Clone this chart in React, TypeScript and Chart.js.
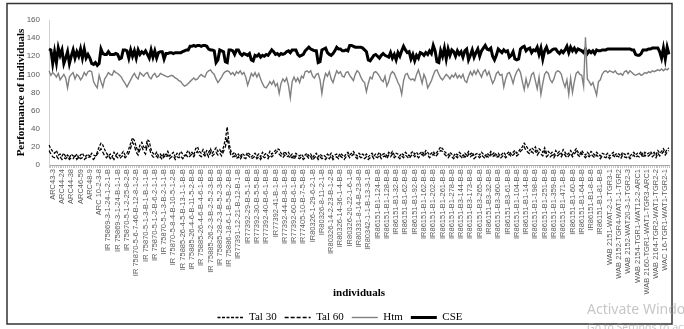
import React, { useEffect, useRef } from 'react';
import { Chart, registerables } from 'chart.js';

Chart.register(...registerables);

// Named individuals shown as tick labels (every 5th individual is labelled)
const individuals = [
  'ARC43-3', 'ARC44-24', 'ARC44-38', 'ARC46-59', 'ARC48-9', 'ARC 10-2-3-8',
  'IR 75869-3-1-24-1-2-1-B', 'IR 75869-3-1-24-B-1-1-B', 'IR 75870-5-1-2-25-8-2-B',
  'IR 75870-5-6-7-46-B-12-8-1-2-B', 'IR 75870-5-1-3-B-1-B-1-1-B', 'IR 75870-5-1-2-B-6-2-1-1-B',
  'IR 75870-5-1-3-B-2-1-1-B', 'IR 75870-5-8-4-B-10-5-1-2-B', 'IR 75885-26-4-5-B-13-1-1-B-B',
  'IR 75885-26-4-6-B-11-5-2-B-B', 'IR 75885-26-4-6-B-4-6-1-B-B', 'IR 75885-26-2-3-B-2-5-2-3-B-B',
  'IR 75885-28-2-3-B-5-2-3-B-B', 'IR 75886-18-6-1-B-5-B-2-B-B', 'IR77391-12-21-B-12-B-1-B',
  'IR77392-29-B-5-1-B-B', 'IR77392-30-B-5-5-B-B', 'IR77392-40-B-6-1-B-B', 'IR77392-41-B-1-B-B',
  'IR77392-44-B-8-1-B-B', 'IR77392-60-B-6-1-B-B', 'IR77405-10-B-7-5-B-B', 'IR80326-1-29-6-2-1-B',
  'IR80326-8-11-2-1-B', 'IR80326-14-2-23-B-1-2-B', 'IR80326-14-36-1-4-B-B', 'IR80326-20-22-1-6-1-B',
  'IR80331-8-14-B-23-8-B', 'IR80342-1-1-B-13-3-1-B',
  'IR86151-B1-124-B-B', 'IR86151-B1-128-B-B', 'IR86151-B1-32-B-B', 'IR86151-B1-62-B-B',
  'IR86151-B1-92-B-B', 'IR86151-B1-162-B-B', 'IR86151-B1-202-B-B', 'IR86151-B1-261-B-B',
  'IR86151-B1-278-B-B', 'IR86151-B3-144-B-B', 'IR86151-B3-173-B-B', 'IR86151-B3-265-B-B',
  'IR86151-B3-32-B-B', 'IR86151-B3-360-B-B', 'IR86151-B3-61-B-B', 'IR86151-B1-104-B-B',
  'IR86151-B1-14-B-B', 'IR86151-B1-198-B-B', 'IR86151-B1-251-B-B', 'IR86151-B1-359-B-B',
  'IR86151-B1-471-B-B', 'IR86151-B1-60-B-B', 'IR86151-B1-64-B-B', 'IR86151-B1-8-B-B',
  'IR86151-B1-81-B-B',
  'WAB 2151-WAT-2-1-TGR3-1', 'WAB 2152-TGR4-WAT1-1-TGR2', 'WAB 2152-WAT20-3-1-TGR2-3',
  'WAB 2154-TGR1-WAT12-2-ARC1', 'WAB 2160-TGR1-WAT1-TGR3-ARC1', 'WAB 2164-TGR2-WAT1-TGR2-2',
  'WAC 16-TGR1-WAT1-TGR2-1',
];
const LABEL_EVERY = 5;
const LABEL_START = 2;

const cse = [
  128,127,112,125,113,129,121,127,112,118,
  125,112,120,127,118,125,120,128,118,128,
  118,122,118,112,111,113,110,112,128,123,
  122,122,125,122,122,122,123,122,117,118,
  127,127,126,118,127,120,126,118,127,122,
  125,123,126,122,118,127,119,126,118,124,
  125,125,117,123,123,124,124,123,124,124,
  124,124,125,126,127,127,131,131,132,131,
  132,132,131,132,132,131,128,127,127,126,
  113,116,127,126,125,114,113,127,127,126,
  122,127,127,123,121,123,122,121,123,116,
  115,121,120,122,119,121,120,122,121,124,
  127,125,122,123,121,123,122,123,125,126,
  124,127,127,127,122,120,121,122,126,128,
  130,128,127,126,126,113,114,127,128,129,
  124,122,121,123,126,130,128,128,126,126,
  127,126,132,132,131,130,130,130,130,129,
  127,125,116,115,118,121,122,120,118,121,
  123,121,120,119,124,118,122,116,124,120,
  126,131,127,124,125,117,122,115,121,118,
  124,123,121,124,122,126,123,132,126,114,
  113,126,120,129,117,128,121,127,125,120,
  126,122,125,119,126,128,116,121,127,119,
  124,128,120,126,129,132,128,127,129,120,
  116,121,128,126,124,127,125,126,119,121,
  125,117,116,117,128,130,131,126,128,129,
  124,127,126,130,122,129,117,126,130,124,
  125,127,128,128,125,123,126,124,127,131,
  124,130,126,129,125,128,127,126,124,128,
  123,126,124,126,123,127,126,126,127,127,
  127,128,128,128,128,128,128,128,128,128,
  128,128,128,128,127,127,122,121,121,123,
  127,127,127,128,128,129,129,129,129,125,
  118,129,117,130,122,
];

const htm = [
  104,99,102,100,97,101,94,97,100,96,
  85,97,100,102,95,100,98,94,97,102,
  99,103,104,103,92,88,85,99,92,86,
  95,98,102,100,99,104,102,101,99,97,
  93,90,86,90,94,98,101,97,95,102,
  100,98,101,102,97,95,99,101,97,98,
  101,100,99,98,97,98,99,98,96,95,
  93,92,89,87,88,90,92,94,96,94,
  95,98,100,98,97,102,104,105,102,100,
  95,91,94,97,101,103,104,103,100,102,
  99,103,101,104,100,102,97,88,94,101,
  98,102,97,101,95,90,86,85,88,92,
  89,93,87,90,79,90,95,92,96,88,
  74,92,97,92,96,91,98,96,103,104,
  102,104,98,96,100,101,94,79,93,101,
  98,103,95,91,98,104,101,103,98,97,
  102,103,99,96,93,100,104,102,97,93,
  91,81,90,97,95,102,103,101,98,94,
  92,98,87,92,100,103,101,96,91,87,
  78,93,100,101,96,94,95,93,100,105,
  98,90,100,95,85,89,93,99,104,105,
  100,96,94,97,100,98,95,99,97,101,
  96,99,96,100,93,91,98,103,99,104,
  100,105,101,97,103,105,99,103,96,90,
  94,101,103,99,100,86,95,101,102,97,
  90,98,103,106,102,92,83,95,86,92,
  100,102,93,84,97,78,90,100,103,101,
  94,91,95,102,104,103,100,92,86,94,
  78,96,80,92,101,103,100,99,87,141,
  95,92,88,91,84,77,92,94,100,103,
  104,102,104,103,102,104,101,100,101,99,
  103,104,101,104,102,100,99,100,101,99,
  100,102,101,103,102,104,103,104,105,104,
  106,104,106,105,107,
];

const tal30 = [
  22,18,15,13,16,11,12,10,13,9,
  11,8,12,10,9,12,8,11,13,9,
  10,12,9,13,11,10,14,20,24,22,
  17,13,10,12,9,14,11,13,10,12,
  15,11,13,18,24,30,27,20,15,22,
  25,20,18,28,26,17,13,11,14,10,
  12,9,13,11,15,10,12,14,9,13,
  11,15,12,10,13,16,12,14,11,18,
  20,15,13,17,12,16,14,18,13,16,
  19,15,17,13,20,28,42,24,15,12,
  14,10,12,9,13,11,10,14,12,9,
  11,13,10,12,9,14,11,13,10,15,
  12,14,16,18,17,13,11,15,12,14,
  10,12,9,13,11,10,12,9,11,13,
  10,12,8,11,13,9,12,10,11,9,
  12,10,13,9,11,12,10,13,11,9,
  12,14,11,13,15,12,10,13,11,12,
  10,12,9,11,13,10,12,11,14,10,
  12,13,10,14,12,15,11,13,12,10,
  13,11,14,12,10,13,15,12,14,11,
  13,15,12,16,14,11,13,15,12,14,
  17,20,18,15,13,11,14,12,10,13,
  11,14,12,10,13,11,15,12,14,10,
  12,13,11,14,12,10,13,11,15,12,
  14,11,13,10,12,14,11,13,15,12,
  14,16,13,15,18,20,24,21,18,16,
  19,17,20,15,18,16,14,19,13,15,
  12,14,11,16,13,15,12,17,14,11,
  13,16,12,15,18,14,12,16,13,11,
  14,12,15,13,11,14,12,10,13,12,
  11,13,10,12,14,11,13,12,10,14,
  12,11,13,10,12,14,11,13,12,15,
  11,14,12,13,15,12,14,11,16,13,
  15,18,14,17,19,
];

const tal60 = [
  16,12,9,8,10,7,9,6,8,7,
  9,6,8,7,10,6,9,7,8,6,
  8,7,10,8,6,9,12,15,18,14,
  10,8,11,7,9,6,10,8,7,9,
  11,8,10,13,19,25,21,14,11,17,
  20,15,12,23,19,12,9,8,10,7,
  9,6,10,8,11,7,9,10,6,9,
  8,10,7,9,11,8,10,12,9,13,
  15,11,9,12,10,13,9,14,10,12,
  14,11,13,10,15,20,30,18,11,9,
  10,7,9,6,10,8,7,11,9,7,
  8,10,7,9,6,10,8,9,7,11,
  9,11,13,15,12,10,8,11,9,10,
  7,9,6,10,8,7,9,6,8,10,
  7,9,5,8,10,6,9,7,8,6,
  9,7,10,6,8,9,7,10,8,6,
  9,11,8,10,12,9,7,10,8,9,
  7,9,6,8,10,7,9,8,11,7,
  9,10,7,11,9,12,8,10,9,7,
  10,8,11,9,7,10,12,9,11,8,
  10,12,9,13,11,8,10,12,9,11,
  14,16,15,12,10,8,11,9,7,10,
  8,11,9,7,10,8,12,9,11,7,
  9,10,8,11,9,7,10,8,12,9,
  11,8,10,7,9,11,8,10,12,9,
  11,13,10,12,15,17,20,16,14,12,
  15,13,16,11,14,12,10,15,9,11,
  9,11,8,12,10,12,9,13,11,8,
  10,13,9,12,15,11,9,13,10,8,
  11,9,12,10,8,11,9,7,10,9,
  8,10,7,9,11,8,10,9,7,11,
  9,8,10,7,9,11,8,10,9,12,
  8,11,9,10,12,9,11,8,13,10,
  12,15,11,14,16,
];

const Y_MIN = 0;
const Y_MAX = 160;
const Y_STEP = 20;

const categories = cse.map((_, i) =>
  i % LABEL_EVERY === LABEL_START ? individuals[(i - LABEL_START) / LABEL_EVERY] || '' : ''
);

const SERIF = '"Liberation Serif", "Times New Roman", serif';
const SANS = '"Liberation Sans", Arial, sans-serif';

const framePlugin = {
  id: 'frame',
  afterDraw(chart: any) {
    const ctx = chart.ctx;
    ctx.save();
    ctx.strokeStyle = '#333333';
    ctx.lineWidth = 1.5;
    ctx.strokeRect(7, 3.5, 665, 320.5);
    ctx.fillStyle = 'rgba(160,160,160,0.6)';
    ctx.textBaseline = 'alphabetic';
    ctx.textAlign = 'left';
    ctx.font = '14px "Noto Sans", "Open Sans", sans-serif';
    ctx.fillText('Activate Windows', 587, 314);
    ctx.font = '10.5px "Noto Sans", "Open Sans", sans-serif';
    ctx.fillText('Go to Settings to activate Windows.', 587, 331);
    ctx.restore();
  },
};

export default function App() {
  const ref = useRef<HTMLCanvasElement>(null);

  useEffect(() => {
    if (!ref.current) return;
    const chart = new Chart(ref.current, {
      type: 'line',
      data: {
        labels: categories,
        datasets: [
          {
            label: 'Tal 30',
            data: tal30,
            borderColor: '#000000',
            backgroundColor: '#000000',
            borderWidth: 1.3,
            borderDash: [3, 1.5],
            pointRadius: 0,
            tension: 0,
            fill: false,
          },
          {
            label: 'Tal 60',
            data: tal60,
            borderColor: '#000000',
            backgroundColor: '#000000',
            borderWidth: 1.3,
            borderDash: [4, 2],
            pointRadius: 0,
            tension: 0,
            fill: false,
          },
          {
            label: 'Htm',
            data: htm,
            borderColor: '#808080',
            backgroundColor: '#808080',
            borderWidth: 1.4,
            pointRadius: 0,
            tension: 0,
            fill: false,
          },
          {
            label: 'CSE',
            data: cse,
            borderColor: '#000000',
            backgroundColor: '#000000',
            borderWidth: 3,
            pointRadius: 0,
            tension: 0,
            fill: false,
          },
        ],
      },
      options: {
        responsive: false,
        animation: false,
        devicePixelRatio: 1,
        layout: { padding: { left: 11, right: 15, top: 20, bottom: 0 } },
        plugins: {
          legend: {
            position: 'bottom',
            labels: {
              usePointStyle: true,
              pointStyle: 'line',
              pointStyleWidth: 26,
              padding: 8,
              color: '#000000',
              font: { family: SERIF, size: 11 },
              generateLabels: (c: any) => {
                const items = (Chart as any).defaults.plugins.legend.labels.generateLabels(c);
                items.forEach((it: any) => {
                  const ds = c.data.datasets[it.datasetIndex];
                  it.lineDash = ds.borderDash || [];
                  it.lineWidth = ds.borderWidth;
                  it.strokeStyle = ds.borderColor;
                  it.fillStyle = ds.borderColor;
                });
                return items;
              },
            },
          },
          tooltip: { enabled: false },
        },
        scales: {
          x: {
            type: 'category',
            grid: {
              display: true,
              drawOnChartArea: false,
              drawTicks: true,
              tickLength: 3,
              color: '#c4c4c4',
            },
            border: { display: true, color: '#a6a6a6' },
            ticks: {
              autoSkip: false,
              minRotation: 90,
              maxRotation: 90,
              padding: 1,
              color: '#595959',
              font: { family: SANS, size: 7.5 },
            },
            title: {
              display: true,
              text: 'individuals',
              color: '#000000',
              font: { family: SERIF, size: 11, weight: 'bold' },
              padding: { top: 4, bottom: 4 },
            },
            afterFit: (s: any) => {
              s.height = 139;
            },
          },
          y: {
            min: Y_MIN,
            max: Y_MAX,
            grid: { display: false, drawTicks: false },
            border: { display: true, color: '#d0d0d0' },
            ticks: {
              stepSize: Y_STEP,
              padding: 9,
              color: '#595959',
              font: { family: SANS, size: 8 },
            },
            title: {
              display: true,
              text: 'Performance of individuals',
              color: '#000000',
              font: { family: SERIF, size: 11, weight: 'bold' },
              padding: { top: 4, bottom: 4 },
            },
            afterFit: (s: any) => {
              s.width = 38;
            },
          },
        },
      },
      plugins: [framePlugin],
    } as any);
    return () => chart.destroy();
  }, []);

  return (
    <div
      style={{
        position: 'absolute',
        left: 0,
        top: 0,
        width: 684,
        height: 329,
        overflow: 'hidden',
        background: '#ffffff',
      }}
    >
      <canvas ref={ref} width={684} height={333} style={{ display: 'block', width: 684, height: 333 }} />
    </div>
  );
}
